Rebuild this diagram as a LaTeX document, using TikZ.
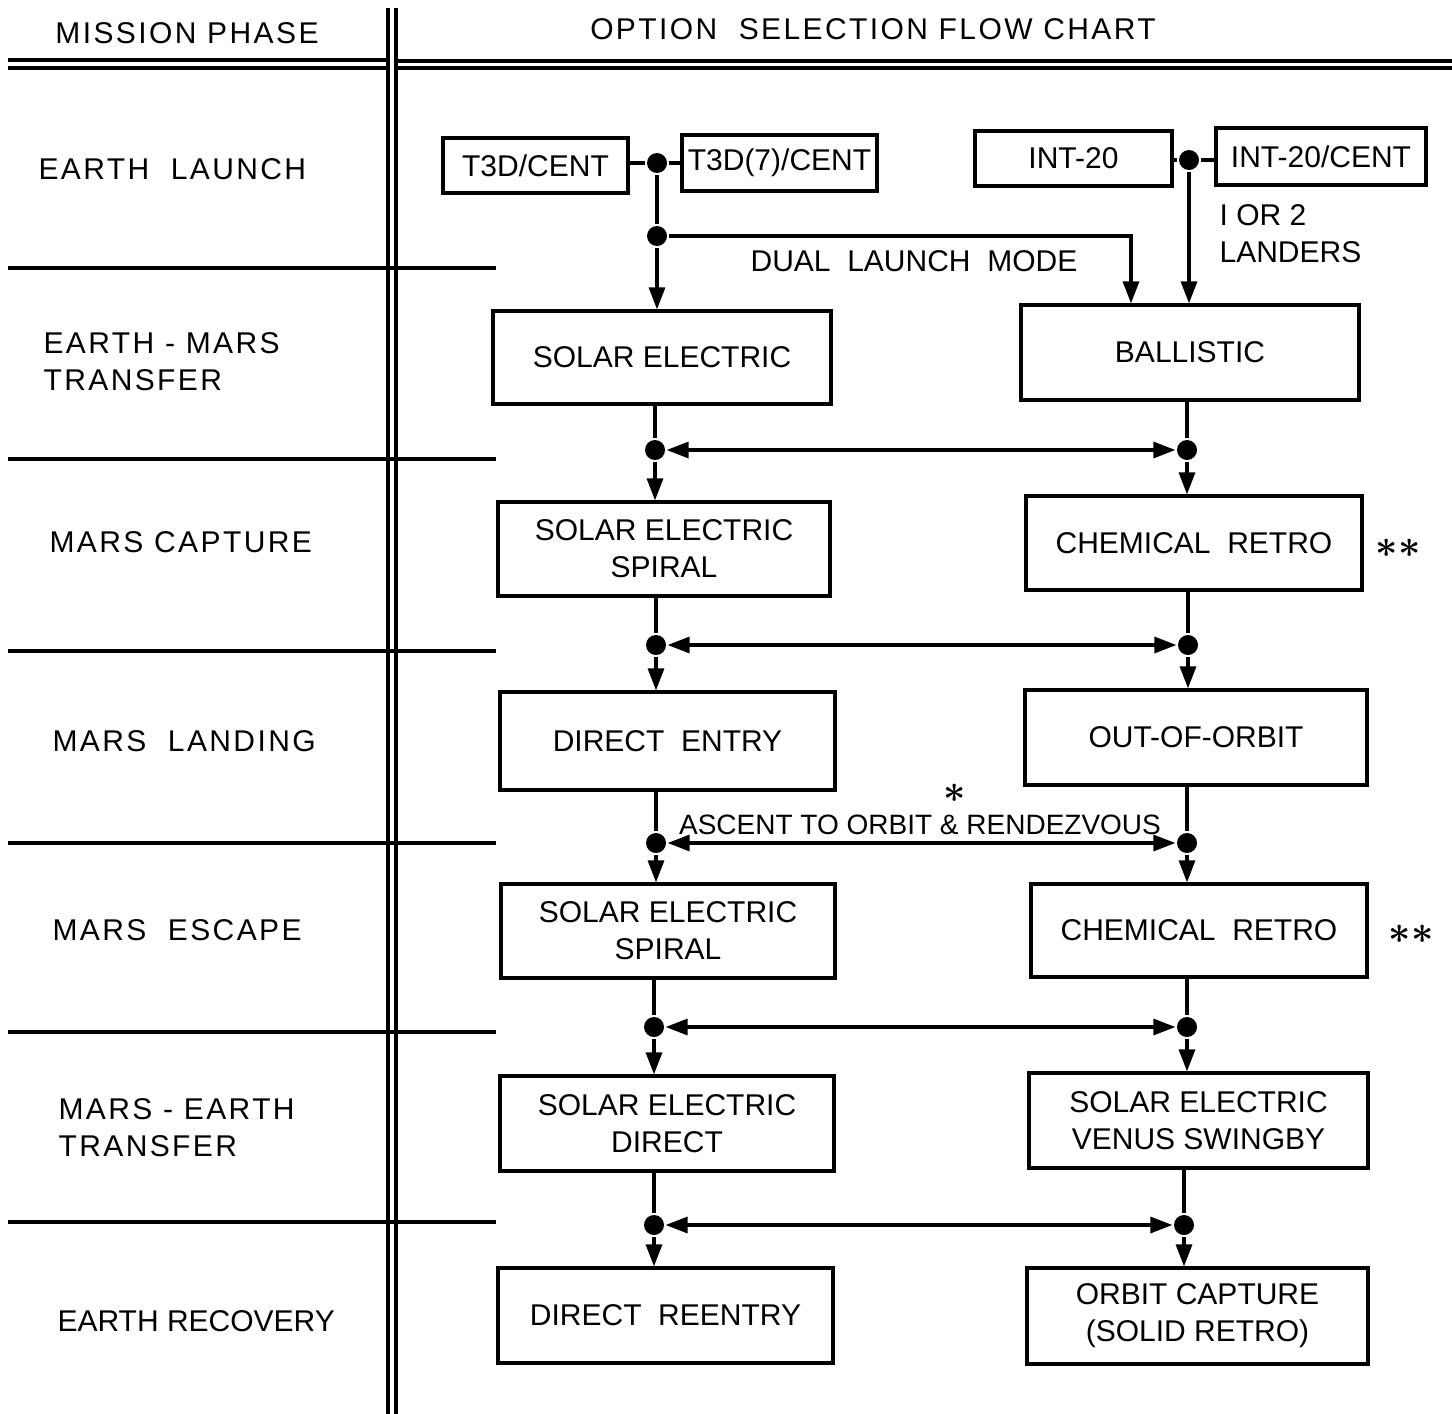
\documentclass[tikz,border=0pt]{standalone}
\usepackage{fontspec}
\setmainfont{Liberation Sans}
\newfontfamily\widefont[LetterSpace=8]{Liberation Sans}
\usetikzlibrary{arrows.meta}
\begin{document}
\begin{tikzpicture}[x=0.5pt,y=-0.5pt,line width=1.6pt,
    box/.style={draw,inner sep=0pt,align=center},
    dot/.style={fill,circle,inner sep=0pt,minimum size=10pt},
    lbl/.style={anchor=west,align=left,inner sep=0pt,font=\widefont},
    star/.style={inner sep=0pt,font=\boldmath},
    >={Triangle[length=11pt,width=8pt]}]
    \fontsize{15}{18.5}\selectfont
    \useasboundingbox (0,0) rectangle (1452,1414);

    % table rules
    \draw (8,60) -- (388,60) (8,68) -- (388,68);
    \draw (396,61) -- (1452,61) (396,68) -- (1452,68);
    \draw (388,8) -- (388,1414) (396,8) -- (396,1414);
    \foreach \y in {268,459,651,843,1032,1222}
        \draw (8,\y) -- (496,\y);

    \node[font=\widefont] (phase) at (187,33) {MISSION PHASE};
    \node[font=\widefont] (chart) at (873,29) {OPTION\ \ SELECTION FLOW CHART};

    % mission phases
    \node[lbl] (ph1) at (37,169) {EARTH\ \ LAUNCH};
    \node[lbl] (ph2) at (42,362) {EARTH - MARS\\TRANSFER};
    \node[lbl] (ph3) at (48,542) {MARS CAPTURE};
    \node[lbl] (ph4) at (51,741) {MARS\ \ LANDING};
    \node[lbl] (ph5) at (51,930) {MARS\ \ ESCAPE};
    \node[lbl] (ph6) at (57,1128) {MARS - EARTH\\TRANSFER};
    \node[lbl,font=] (ph7) at (56,1321) {EARTH RECOVERY};

    % launch vehicles
    \node[box,minimum width=92.5pt,minimum height=27.5pt] (t3d) at (535.5,165.5) {T3D/CENT};
    \node[box,minimum width=97.5pt,minimum height=28pt] (t3d7) at (779.5,163) {T3D(7)/CENT};
    \node[box,minimum width=98.5pt,minimum height=27.5pt] (int20) at (1073.5,158.5) {INT-20};
    \node[box,minimum width=105pt,minimum height=28.5pt] (int20c) at (1321,156.5) {INT-20/CENT};
    \node[dot] (jA) at (657,163) {};
    \node[dot] (jB) at (657,236) {};
    \node[dot] (jC) at (1189,160) {};
    \coordinate (dual) at (1131,236);

    % option boxes
    \node[box,minimum width=169pt,minimum height=46.5pt] (se1) at (662,357.5) {SOLAR ELECTRIC};
    \node[box,minimum width=169pt,minimum height=47.5pt] (bal) at (1190,352.5) {BALLISTIC};
    \node[box,minimum width=166pt,minimum height=47pt] (sp1) at (664,549) {SOLAR ELECTRIC\\SPIRAL};
    \node[box,minimum width=168pt,minimum height=47pt] (cr1) at (1194,543) {CHEMICAL\ \ RETRO};
    \node[box,minimum width=167.5pt,minimum height=49pt] (de) at (667.5,741) {DIRECT\ \ ENTRY};
    \node[box,minimum width=171pt,minimum height=47.5pt] (oo) at (1196,737.5) {OUT-OF-ORBIT};
    \node[box,minimum width=167pt,minimum height=47pt] (sp2) at (668,931) {SOLAR ELECTRIC\\SPIRAL};
    \node[box,minimum width=168pt,minimum height=46.5pt] (cr2) at (1199,930.5) {CHEMICAL\ \ RETRO};
    \node[box,minimum width=167pt,minimum height=47.5pt] (sd) at (667,1123.5) {SOLAR ELECTRIC\\DIRECT};
    \node[box,minimum width=169.5pt,minimum height=47.5pt] (vs) at (1198.5,1120.5) {SOLAR ELECTRIC\\VENUS SWINGBY};
    \node[box,minimum width=167.5pt,minimum height=47.5pt] (dr) at (665.5,1315.5) {DIRECT\ \ REENTRY};
    \node[box,minimum width=170.5pt,minimum height=48pt] (oc) at (1197.5,1316) {ORBIT CAPTURE\\(SOLID RETRO)};

    \draw (t3d.east |- jA) -- (jA) -- (t3d7.west |- jA);
    \draw (jA) -- (jB);
    \draw[->] (jB) -- (jB |- se1.north);
    \draw[->] (jB) -- (dual) -- (dual |- bal.north);
    \draw (int20.east |- jC) -- (jC) -- (int20c.west |- jC);
    \draw[->] (jC) -- (jC |- bal.north);
    \node (dlm) at (914,261) {DUAL\ \ LAUNCH\ \ MODE};
    \node[lbl,font=] (landers) at (1218,234) {I OR 2\\LANDERS};

    % switch points between phases
    \foreach \a/\b/\c/\d/\xl/\xr/\y in {se1/sp1/bal/cr1/655/1187/450,
        sp1/de/cr1/oo/656/1188/645, de/sp2/oo/cr2/656/1187/843,
        sp2/sd/cr2/vs/654/1187/1027, sd/dr/vs/oc/654/1184/1225} {
        \node[dot] (L\b) at (\xl,\y) {};
        \node[dot] (R\d) at (\xr,\y) {};
        \draw (\a.south -| L\b) -- (L\b);
        \draw[->] (L\b) -- (L\b |- \b.north);
        \draw (\c.south -| R\d) -- (R\d);
        \draw[->] (R\d) -- (R\d |- \d.north);
        \draw[<->] (L\b) -- (R\d);
    }
    \node[font=\fontsize{14}{17}\selectfont] (ascent) at (920,825) {ASCENT TO ORBIT \& RENDEZVOUS};
    \node[star] (st0) at (955,793) {\scalebox{1.35}{$\ast$}};
    \node[star] (st1) at (1398,548) {\scalebox{1.35}{$\ast\ast$}};
    \node[star] (st2) at (1411,934) {\scalebox{1.35}{$\ast\ast$}};
\end{tikzpicture}
\end{document}
